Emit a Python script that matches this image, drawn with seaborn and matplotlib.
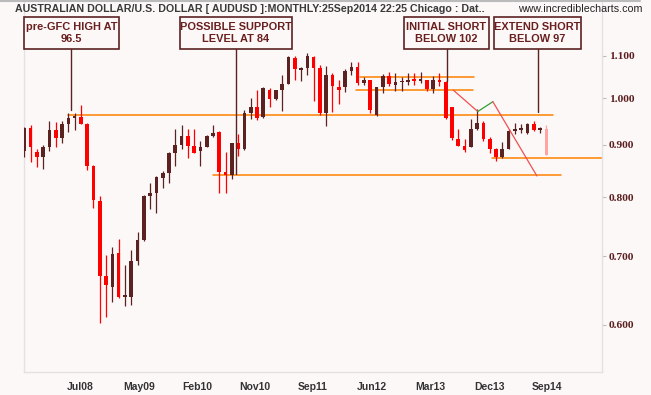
import numpy as np
import matplotlib
matplotlib.use('Agg')
import matplotlib.pyplot as plt
import seaborn as sns
from matplotlib.patches import Rectangle
from matplotlib.lines import Line2D

# monthly AUDUSD candles, Oct07 .. Sep14
opens = [0.888, 0.935, 0.885, 0.876, 0.896, 0.930, 0.914, 0.943, 0.957, 0.958,
         0.943, 0.858, 0.793, 0.669, 0.654, 0.705, 0.639, 0.639, 0.692, 0.726,
         0.802, 0.807, 0.835, 0.845, 0.884, 0.900, 0.917, 0.898, 0.887, 0.896,
         0.919, 0.927, 0.847, 0.841, 0.904, 0.891, 0.966, 0.980, 0.959, 1.018,
         0.998, 1.018, 1.032, 1.094, 1.066, 1.071, 1.097, 1.070, 0.966, 1.053,
         1.026, 1.024, 1.063, 1.072, 1.035, 1.041, 0.962, 1.026, 1.051, 1.030,
         1.036, 1.037, 1.044, 1.039, 1.041, 1.021, 1.041, 1.037, 0.979, 0.912,
         0.897, 0.895, 0.933, 0.946, 0.912, 0.891, 0.875, 0.891, 0.928, 0.930,
         0.924, 0.943, 0.930, 0.933]
highs = [0.936, 0.941, 0.891, 0.899, 0.950, 0.947, 0.950, 0.966, 0.966, 0.984,
         0.945, 0.860, 0.802, 0.702, 0.715, 0.728, 0.686, 0.710, 0.740, 0.803,
         0.826, 0.838, 0.848, 0.886, 0.933, 0.941, 0.933, 0.933, 0.908, 0.921,
         0.940, 0.929, 0.886, 0.904, 0.922, 0.973, 0.999, 1.018, 1.025, 1.023,
         1.018, 1.053, 1.099, 1.099, 1.072, 1.106, 1.098, 1.077, 1.075, 1.057,
         1.041, 1.068, 1.084, 1.084, 1.048, 1.042, 1.025, 1.056, 1.061, 1.059,
         1.049, 1.059, 1.059, 1.061, 1.042, 1.051, 1.059, 1.038, 0.980, 0.933,
         0.912, 0.954, 0.976, 0.950, 0.916, 0.893, 0.905, 0.933, 0.945, 0.943,
         0.945, 0.950, 0.937, 0.941]
lows = [0.876, 0.866, 0.857, 0.852, 0.888, 0.896, 0.904, 0.927, 0.930, 0.944,
        0.850, 0.781, 0.603, 0.610, 0.631, 0.637, 0.626, 0.627, 0.687, 0.725,
        0.779, 0.772, 0.816, 0.826, 0.858, 0.892, 0.874, 0.884, 0.858, 0.896,
        0.915, 0.808, 0.808, 0.833, 0.877, 0.889, 0.953, 0.952, 0.957, 0.981,
        0.995, 0.972, 1.031, 1.041, 1.040, 1.053, 0.993, 0.963, 0.939, 0.968,
        0.987, 1.014, 1.053, 1.030, 1.030, 0.966, 0.960, 1.011, 1.027, 1.017,
        1.017, 1.030, 1.030, 1.035, 1.017, 1.012, 1.027, 0.954, 0.910, 0.897,
        0.886, 0.895, 0.930, 0.908, 0.883, 0.868, 0.874, 0.891, 0.922, 0.924,
        0.922, 0.929, 0.925, 0.879]
closes = [0.935, 0.896, 0.876, 0.896, 0.930, 0.914, 0.943, 0.957, 0.958, 0.944,
          0.858, 0.794, 0.669, 0.656, 0.704, 0.639, 0.641, 0.693, 0.726, 0.802,
          0.807, 0.837, 0.845, 0.884, 0.900, 0.917, 0.898, 0.884, 0.896, 0.919,
          0.925, 0.847, 0.841, 0.904, 0.891, 0.966, 0.980, 0.957, 1.023, 0.998,
          1.018, 1.032, 1.097, 1.068, 1.071, 1.099, 1.070, 0.966, 1.053, 1.027,
          1.018, 1.063, 1.072, 1.035, 1.041, 0.973, 1.024, 1.051, 1.032, 1.037,
          1.037, 1.041, 1.038, 1.040, 1.021, 1.041, 1.037, 0.955, 0.913, 0.897,
          0.889, 0.933, 0.946, 0.912, 0.891, 0.875, 0.891, 0.929, 0.930, 0.934,
          0.943, 0.930, 0.933, 0.879]

tick_pos = [8.9, 18.2, 27.5, 36.7, 45.9, 55.3, 64.5, 73.9, 83.1]
tick_labels = ['Jul08', 'May09', 'Feb10', 'Nov10', 'Sep11', 'Jun12', 'Mar13', 'Dec13', 'Sep14']
y_ticks = [0.6, 0.7, 0.8, 0.9, 1.0, 1.1]

# support / resistance lines: level, from, to (candle index)
level_vals = [0.962, 0.840, 1.048, 1.0175, 0.873]
level_from = [7.0, 30.0, 53.4, 52.7, 74.4]
level_to = [84.1, 85.4, 71.5, 71.3, 92.0]

# trend lines
trend_x = [[68.2, 72.1], [72.1, 74.5], [74.5, 81.5]]
trend_y = [[1.018, 0.970], [0.970, 0.9917], [0.9917, 0.839]]
trend_c = ['#F05050', '#30A030', '#F05050']

# callout boxes (pixel box), text, pointer (candle index, price)
notes = ['pre-GFC HIGH AT\n96.5', 'POSSIBLE SUPPORT\nLEVEL AT 84',
         'INITIAL SHORT\nBELOW 102', 'EXTEND SHORT\nBELOW 97']
note_boxes = [(24, 17, 119, 49), (180, 17, 292, 49), (404, 17, 489, 49), (494, 17, 581, 49)]
note_x = [7.47, 33.7, 67.15, 81.7]
note_y = [0.973, 0.843, 1.039, 0.970]

W, H = 651, 395
bg = '#FDF8F8'
maroon = '#5C2222'

sns.set_style('white')
plt.rcParams['font.family'] = ['Liberation Sans', 'DejaVu Sans']

fig = plt.figure(figsize=(W / 100, H / 100), dpi=100, facecolor=bg)
ax = fig.add_axes([24 / W, 23 / H, 578 / W, 371 / H], facecolor=bg)
ax.set_yscale('log')

o = np.array(opens); c = np.array(closes)
x = np.arange(len(o))
cols = [maroon if cc >= oo else '#FF0000' for oo, cc in zip(o, c)]
cols[-1] = '#FFA3A3'
bot = np.minimum(o, c)
top = np.maximum(np.maximum(o, c), bot * 1.004)
ax.vlines(x, lows, highs, colors=cols, lw=0.9, zorder=3)
ax.bar(x, top - bot, bottom=bot, width=0.58, color=cols, linewidth=0, zorder=4)

for v, a, b in zip(level_vals, level_from, level_to):
    ax.plot([a, b], [v, v], color='#FF8000', lw=1.1, zorder=2)

for tx, ty, tc in zip(trend_x, trend_y, trend_c):
    sns.lineplot(x=tx, y=ty, color=tc, lw=0.9, ax=ax, zorder=5)

box_bottom_price = np.exp(49 / 444)
for nx, ny in zip(note_x, note_y):
    ax.plot([nx, nx], [box_bottom_price, ny], color=maroon, lw=1.0, zorder=6)

for (x0, y0, x1, y1), t in zip(note_boxes, notes):
    fig.patches.append(Rectangle((x0 / W, 1 - y1 / H), (x1 - x0) / W, (y1 - y0) / H,
                                 transform=fig.transFigure, facecolor=bg,
                                 edgecolor=maroon, lw=1.2, zorder=10))
    fig.text((x0 + x1) / 2 / W, 1 - (y0 + y1) / 2 / H, t, ha='center', va='center',
             fontsize=7.9, fontweight='bold', color='#6A1F1F', linespacing=1.25, zorder=11)

ax.set_xlim(-0.05, 91.85)
ax.set_ylim(0.5395, np.exp(97 / 444))
ax.set_xticks(tick_pos)
ax.set_xticklabels(tick_labels)
ax.yaxis.set_major_locator(matplotlib.ticker.FixedLocator(y_ticks))
ax.yaxis.set_minor_locator(matplotlib.ticker.NullLocator())
ax.set_yticklabels(['%.3f' % v for v in y_ticks])
ax.yaxis.tick_right()
ax.tick_params(axis='x', length=3, width=0.8, color='#DDDDDD', pad=4,
               labelsize=7.5, labelcolor='#333333')
ax.tick_params(axis='y', length=3, width=0.8, color='#BBBBBB', pad=2,
               labelsize=8.2, labelcolor='#5C1F1F')
for lab in ax.get_xticklabels():
    lab.set_fontweight('bold')
for lab in ax.get_yticklabels():
    lab.set_fontweight('bold')
    lab.set_family(['Liberation Serif', 'DejaVu Serif'])
for s in ['left', 'bottom', 'right']:
    ax.spines[s].set_color('#E2E2E2')
    ax.spines[s].set_linewidth(1.0)
ax.spines['top'].set_visible(False)

fig.text(15 / W, 1 - 9.5 / H,
         'AUSTRALIAN DOLLAR/U.S. DOLLAR [ AUDUSD ]:MONTHLY:25Sep2014 22:25 Chicago : Dat..',
         ha='left', va='center', fontsize=7.7, fontweight='bold', color='#3A3A3A')
fig.text(642 / W, 1 - 8.5 / H, 'www.incrediblecharts.com', ha='right', va='center',
         fontsize=7.7, color='#222222')
fig.add_artist(Line2D([0, 640 / W], [1 - 0.8 / H, 1 - 0.8 / H], transform=fig.transFigure,
                      color='#BBBBBB', lw=1.5))

fig.savefig('out.png', dpi=100, facecolor=bg)
